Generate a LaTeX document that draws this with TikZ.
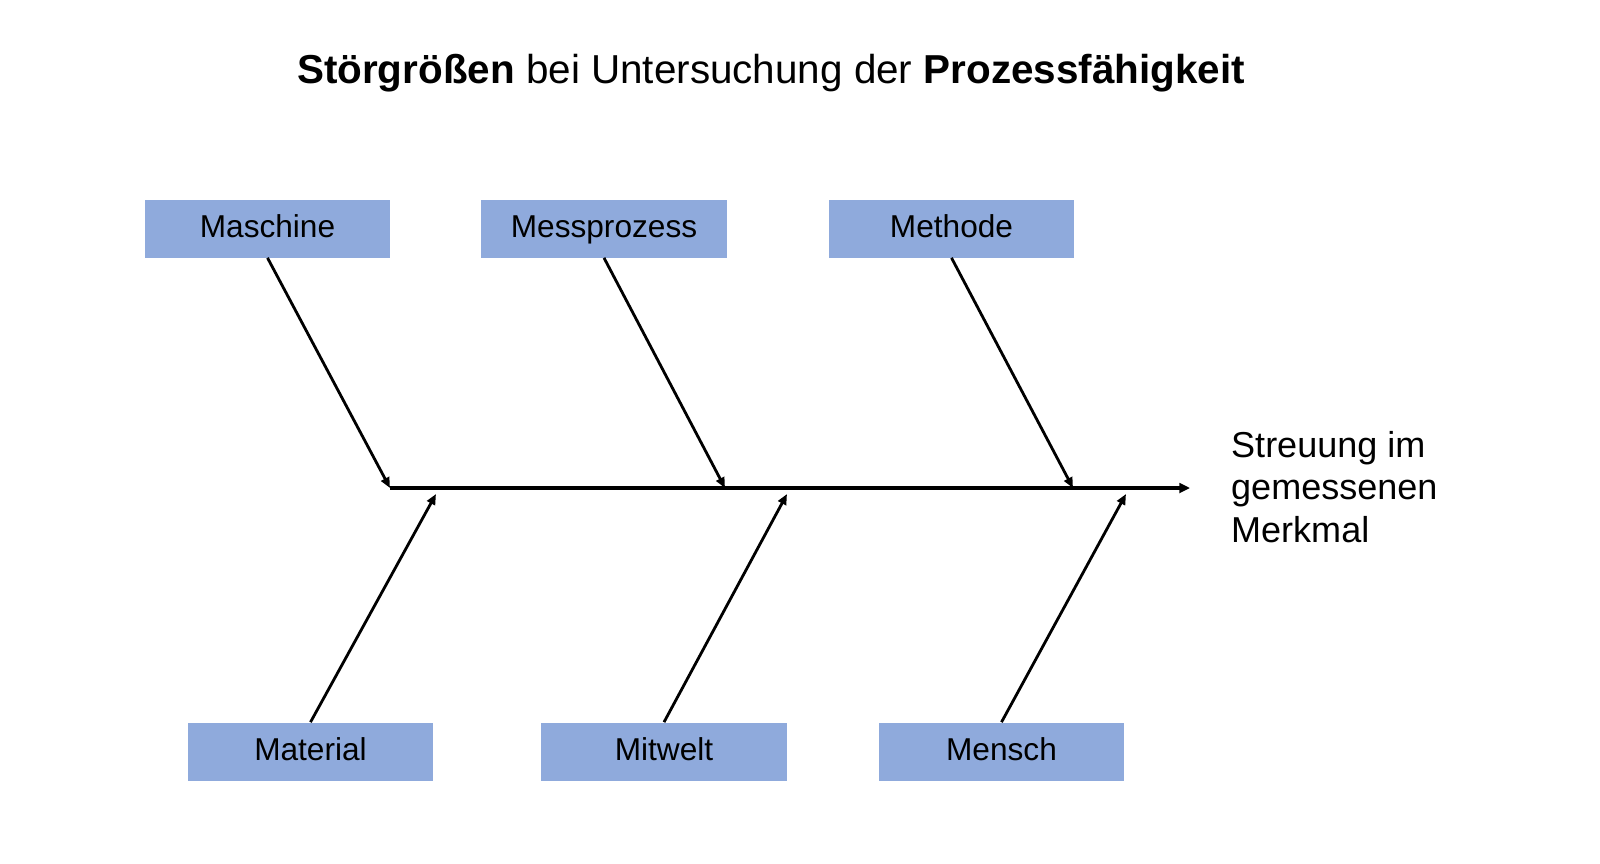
\documentclass[tikz,border=0pt]{standalone}
\usepackage{fontspec}
\setmainfont{Liberation Sans}
\usepackage{xcolor}
\usepackage{tikz}
\usetikzlibrary{arrows.meta,positioning}
\definecolor{causeblue}{HTML}{8FAADC}

\begin{document}
\begin{tikzpicture}[
    x=0.02cm, y=-0.02cm,
    cause/.style={rectangle, fill=causeblue, minimum width=4.92cm, minimum height=1.16cm, align=center, font=\fontsize{18}{21.6}\selectfont, text height=13.5pt, text depth=3pt},
    bone/.style={-{Triangle[length=6pt,width=5pt]}, line width=1.6pt},
    spine/.style={-{Triangle[length=6pt,width=5.5pt]}, line width=1.9pt}
]
    \useasboundingbox (0,0) rectangle (1600,863);

    % Title
    \node (title) at (771,73) {\fontsize{23}{27}\selectfont\textbf{Störgrößen} bei Untersuchung der \textbf{Prozessfähigkeit}};

    % Main spine
    \coordinate (tail) at (390,488);
    \coordinate (head) at (1190,488);
    \node[anchor=west, align=left, font=\fontsize{20.5}{24.4}\selectfont] (effect) at (1225,487) {Streuung im\\gemessenen\\Merkmal};

    % Upper causes
    \node[cause] (maschine) at (267.5,228.5) {Maschine};
    \node[cause] (messprozess) at (604,228.5) {Messprozess};
    \node[cause] (methode) at (951.5,228.5) {Methode};

    % Lower causes
    \node[cause] (material) at (310.5,751.5) {Material};
    \node[cause] (mitwelt) at (664,751.5) {Mitwelt};
    \node[cause] (mensch) at (1001.5,751.5) {Mensch};

    % Points on the spine
    \coordinate (m1) at (390,488);
    \coordinate (m2) at (725,488);
    \coordinate (m3) at (1073,488);
    \coordinate (u1) at (436,494);
    \coordinate (u2) at (787,494);
    \coordinate (u3) at (1126,494);

    % Arrows
    \draw[spine] (tail) -- (head);
    \draw[bone] (maschine.south) -- (m1);
    \draw[bone] (messprozess.south) -- (m2);
    \draw[bone] (methode.south) -- (m3);
    \draw[bone] (material.north) -- (u1);
    \draw[bone] (mitwelt.north) -- (u2);
    \draw[bone] (mensch.north) -- (u3);

\end{tikzpicture}
\end{document}
